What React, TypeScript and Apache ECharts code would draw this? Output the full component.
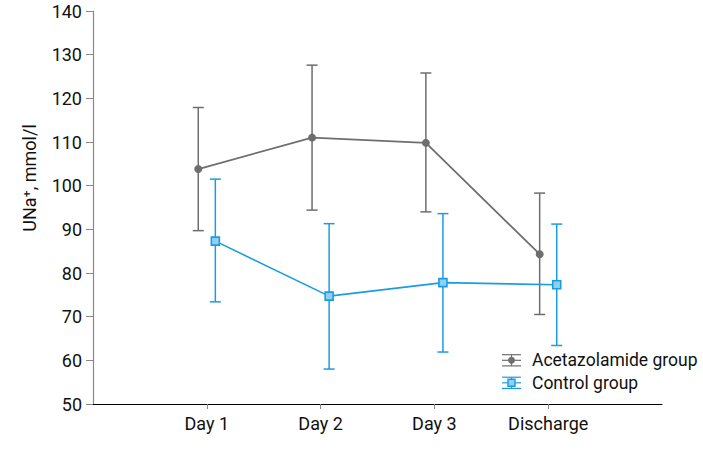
import React, { useEffect, useRef } from "react";
import * as echarts from "echarts";

const categories = ["Day 1", "Day 2", "Day 3", "Discharge"];
const yTicks = [50, 60, 70, 80, 90, 100, 110, 120, 130, 140];
const seriesNames = ["Acetazolamide group", "Control group"];
const acetMean = [103.8, 111.0, 109.8, 84.3];
const acetUpper = [117.9, 127.6, 125.8, 98.3];
const acetLower = [89.7, 94.4, 94.0, 70.5];
const ctrlMean = [87.3, 74.7, 77.8, 77.3];
const ctrlUpper = [101.5, 91.3, 93.6, 91.2];
const ctrlLower = [73.4, 58.0, 61.9, 63.4];

const GRAY = "#6e6e6e";
const BLUE = "#1a9de0";
const OFFSET = 0.075;
const FONT = "Roboto, 'Liberation Sans', sans-serif";
const FS = 18;

function errData(lower: number[], upper: number[], off: number) {
  return lower.map((lo, i) => [i + 1 + off, lo, upper[i]]);
}

function errRender(color: string) {
  return (params: any, api: any) => {
    const x = api.value(0);
    const lo = api.coord([x, api.value(1)]);
    const hi = api.coord([x, api.value(2)]);
    const hw = 5.5;
    const style = { stroke: color, lineWidth: 1.5, fill: "none" };
    return {
      type: "group",
      children: [
        { type: "line", shape: { x1: lo[0], y1: lo[1], x2: hi[0], y2: hi[1] }, style },
        { type: "line", shape: { x1: hi[0] - hw, y1: hi[1], x2: hi[0] + hw, y2: hi[1] }, style },
        { type: "line", shape: { x1: lo[0] - hw, y1: lo[1], x2: lo[0] + hw, y2: lo[1] }, style },
      ],
    };
  };
}

function legendItem(cy: number, color: string, marker: any, label: string) {
  const s = { stroke: color, lineWidth: 1.2 };
  return {
    type: "group",
    children: [
      { type: "line", shape: { x1: 502, y1: cy - 5.6, x2: 521, y2: cy - 5.6 }, style: s },
      { type: "line", shape: { x1: 502, y1: cy, x2: 521, y2: cy }, style: s },
      { type: "line", shape: { x1: 502, y1: cy + 5.6, x2: 521, y2: cy + 5.6 }, style: s },
      { type: "line", shape: { x1: 511.5, y1: cy - 5.6, x2: 511.5, y2: cy + 5.6 }, style: s },
      marker,
      {
        type: "text",
        x: 532,
        y: cy,
        style: { text: label, fontFamily: FONT, fontSize: 17.5, fill: "#111", verticalAlign: "middle" },
      },
    ],
  };
}

export default function App() {
  const ref = useRef<HTMLDivElement>(null);
  useEffect(() => {
    if (!ref.current) return;
    const chart = echarts.init(ref.current, null, { renderer: "svg" });
    chart.setOption({
      animation: false,
      backgroundColor: "#ffffff",
      grid: { left: 93, right: 41, top: 11, bottom: 59, containLabel: false },
      xAxis: {
        type: "value",
        min: 0,
        max: 5,
        interval: 1,
        splitLine: { show: false },
        axisLine: { show: true, lineStyle: { color: "#000", width: 1 } },
        axisTick: { show: true, customValues: [1, 2, 3, 4], length: 5, lineStyle: { color: "#888" } },
        axisLabel: {
          customValues: [1, 2, 3, 4],
          formatter: (v: number) => categories[Math.round(v) - 1] ?? "",
          fontFamily: FONT,
          fontSize: FS,
          color: "#111",
          margin: 10,
        },
      },
      yAxis: {
        type: "value",
        min: 50,
        max: 140,
        interval: 10,
        splitLine: { show: false },
        axisLine: { show: true, lineStyle: { color: "#888", width: 1.2 } },
        axisTick: { show: true, length: 7, lineStyle: { color: "#888" } },
        axisLabel: {
          customValues: yTicks,
          fontFamily: FONT,
          fontSize: FS,
          color: "#111",
          margin: 11,
        },
      },
      legend: { show: false },
      graphic: [
        {
          type: "text",
          x: 29,
          y: 178,
          rotation: Math.PI / 2,
          style: {
            text: "UNa\u207A, mmol/l",
            fontFamily: FONT,
            fontSize: FS,
            fill: "#111",
            align: "center",
            verticalAlign: "middle",
          },
        },
        legendItem(
          360.3,
          GRAY,
          { type: "circle", shape: { cx: 511.5, cy: 360.3, r: 3.5 }, style: { fill: GRAY } },
          seriesNames[0]
        ),
        legendItem(
          382.8,
          BLUE,
          {
            type: "rect",
            shape: { x: 508, y: 379.3, width: 7, height: 7 },
            style: { fill: "#8fd0f2", stroke: BLUE, lineWidth: 1.4 },
          },
          seriesNames[1]
        ),
      ],
      series: [
        {
          name: seriesNames[0] + " err",
          type: "custom",
          renderItem: errRender(GRAY),
          data: errData(acetLower, acetUpper, -OFFSET),
          encode: { x: 0, y: [1, 2] },
          z: 1,
        },
        {
          name: seriesNames[1] + " err",
          type: "custom",
          renderItem: errRender(BLUE),
          data: errData(ctrlLower, ctrlUpper, OFFSET),
          encode: { x: 0, y: [1, 2] },
          z: 1,
        },
        {
          name: seriesNames[0],
          type: "line",
          data: acetMean.map((v, i) => [i + 1 - OFFSET, v]),
          symbol: "circle",
          symbolSize: 8,
          lineStyle: { color: GRAY, width: 1.8 },
          itemStyle: { color: GRAY },
          z: 3,
        },
        {
          name: seriesNames[1],
          type: "line",
          data: ctrlMean.map((v, i) => [i + 1 + OFFSET, v]),
          symbol: "rect",
          symbolSize: 8,
          lineStyle: { color: BLUE, width: 1.6 },
          itemStyle: { color: "#8fd0f2", borderColor: BLUE, borderWidth: 1.6 },
          z: 3,
        },
      ],
    });
    return () => chart.dispose();
  }, []);
  return <div ref={ref} style={{ width: 703, height: 463, position: "absolute", left: 0, top: 0 }} />;
}
